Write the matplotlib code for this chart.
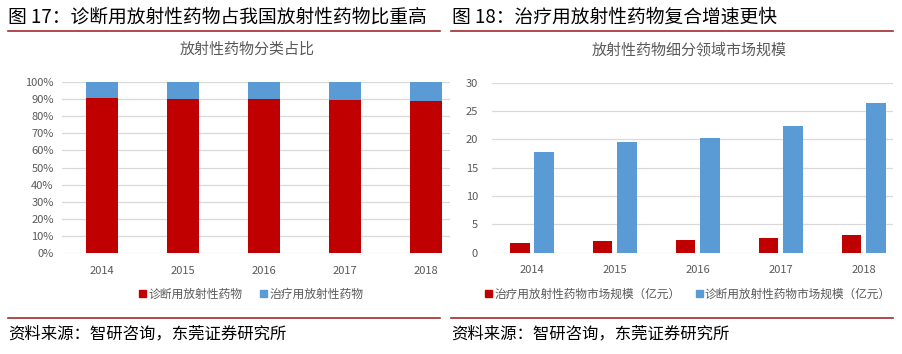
import matplotlib
matplotlib.use("Agg")
import matplotlib.pyplot as plt
from matplotlib.patches import Patch
from matplotlib.lines import Line2D
import numpy as np

plt.rcParams['font.family'] = ['Noto Sans CJK SC', 'DejaVu Sans']

years = ['2014', '2015', '2016', '2017', '2018']
# Right chart: market size (亿元)
therapy_size = [1.75, 2.1, 2.2, 2.55, 3.2]
diag_size = [17.7, 19.5, 20.3, 22.35, 26.5]
# Left chart: share (%)
diag_share = [90.8, 90.3, 89.9, 89.6, 88.9]
therapy_share = [100 - v for v in diag_share]

left_header = '图 17：诊断用放射性药物占我国放射性药物比重高'
right_header = '图 18：治疗用放射性药物复合增速更快'
left_title = '放射性药物分类占比'
right_title = '放射性药物细分领域市场规模'
left_legend = ['诊断用放射性药物', '治疗用放射性药物']
right_legend = ['治疗用放射性药物市场规模（亿元）', '诊断用放射性药物市场规模（亿元）']
source = '资料来源：智研咨询，东莞证券研究所'

RED = '#C00000'
BLUE = '#5B9BD5'
GRID = '#D9D9D9'
TICK = '#595959'
LINE = '#A52A2A'

W, H = 902, 354
fig = plt.figure(figsize=(W / 100, H / 100), dpi=100)

def fx(px):
    return px / W

def fy(py):
    return 1 - py / H

# headers
fig.text(fx(8), fy(17), left_header, fontsize=13.5, color='black', va='center', ha='left', fontweight='medium')
fig.text(fx(452), fy(17), right_header, fontsize=13.5, color='black', va='center', ha='left', fontweight='medium')
fig.add_artist(Line2D([fx(8), fx(440)], [fy(31), fy(31)], color=LINE, lw=1.2))
fig.add_artist(Line2D([fx(451), fx(893)], [fy(31), fy(31)], color=LINE, lw=1.2))
fig.add_artist(Line2D([fx(8), fx(440)], [fy(318), fy(318)], color=LINE, lw=1.2))
fig.add_artist(Line2D([fx(451), fx(893)], [fy(318), fy(318)], color=LINE, lw=1.2))
fig.text(fx(8), fy(334), source, fontsize=11.8, color='black', va='center', ha='left')
fig.text(fx(451), fy(334), source, fontsize=11.8, color='black', va='center', ha='left')

# chart titles
fig.text(fx(247), fy(50), left_title, fontsize=10.8, color='#595959', ha='center', va='center')
fig.text(fx(689), fy(50), right_title, fontsize=10.8, color='#595959', ha='center', va='center')

# Left axes
axL = fig.add_axes([fx(62), fy(253), fx(450) - fx(62), fy(82) - fy(253)])
x = np.arange(len(years))
axL.bar(x, diag_share, width=0.395, color=RED, zorder=3)
axL.bar(x, therapy_share, bottom=diag_share, width=0.395, color=BLUE, zorder=3)
axL.set_ylim(0, 100)
axL.set_xlim(-0.494, 4.296)
axL.set_yticks(np.arange(0, 101, 10))
axL.set_yticklabels([f'{v}%' for v in range(0, 101, 10)])
axL.set_xticks(x)
axL.set_xticklabels(years)
axL.yaxis.grid(True, color=GRID, lw=0.9, zorder=0)
axL.tick_params(axis='both', length=0, labelsize=8, colors=TICK)
axL.tick_params(axis='x', pad=9)
axL.tick_params(axis='y', pad=6)
for s in axL.spines.values():
    s.set_visible(False)

# Right axes
axR = fig.add_axes([fx(492), fy(252.7), fx(893) - fx(492), fy(82.7) - fy(252.7)])
off = 0.145
bw = 0.23
axR.bar(x - off, therapy_size, width=bw, color=RED, zorder=3)
axR.bar(x + off, diag_size, width=bw, color=BLUE, zorder=3)
axR.set_ylim(0, 30)
axR.set_xlim(-0.482, 4.35)
axR.set_yticks(np.arange(0, 31, 5))
axR.set_xticks(x)
axR.set_xticklabels(years)
axR.yaxis.grid(True, color=GRID, lw=0.9, zorder=0)
axR.tick_params(axis='both', length=0, labelsize=8, colors=TICK)
axR.tick_params(axis='x', pad=9)
axR.tick_params(axis='y', pad=10)
for s in axR.spines.values():
    s.set_visible(False)

# legends
hL = [Patch(color=RED), Patch(color=BLUE)]
fig.legend(hL, left_legend, loc='center', bbox_to_anchor=(fx(251), fy(294)), ncol=2,
           frameon=False, fontsize=8.5, labelcolor=TICK, handlelength=0.6, handleheight=0.6,
           handletextpad=0.2, columnspacing=1.5)
hR = [Patch(color=RED), Patch(color=BLUE)]
fig.legend(hR, right_legend, loc='center', bbox_to_anchor=(fx(688), fy(294)), ncol=2,
           frameon=False, fontsize=8.4, labelcolor=TICK, handlelength=0.6, handleheight=0.6,
           handletextpad=0.2, columnspacing=1.3)

fig.savefig('out.png', dpi=100)
